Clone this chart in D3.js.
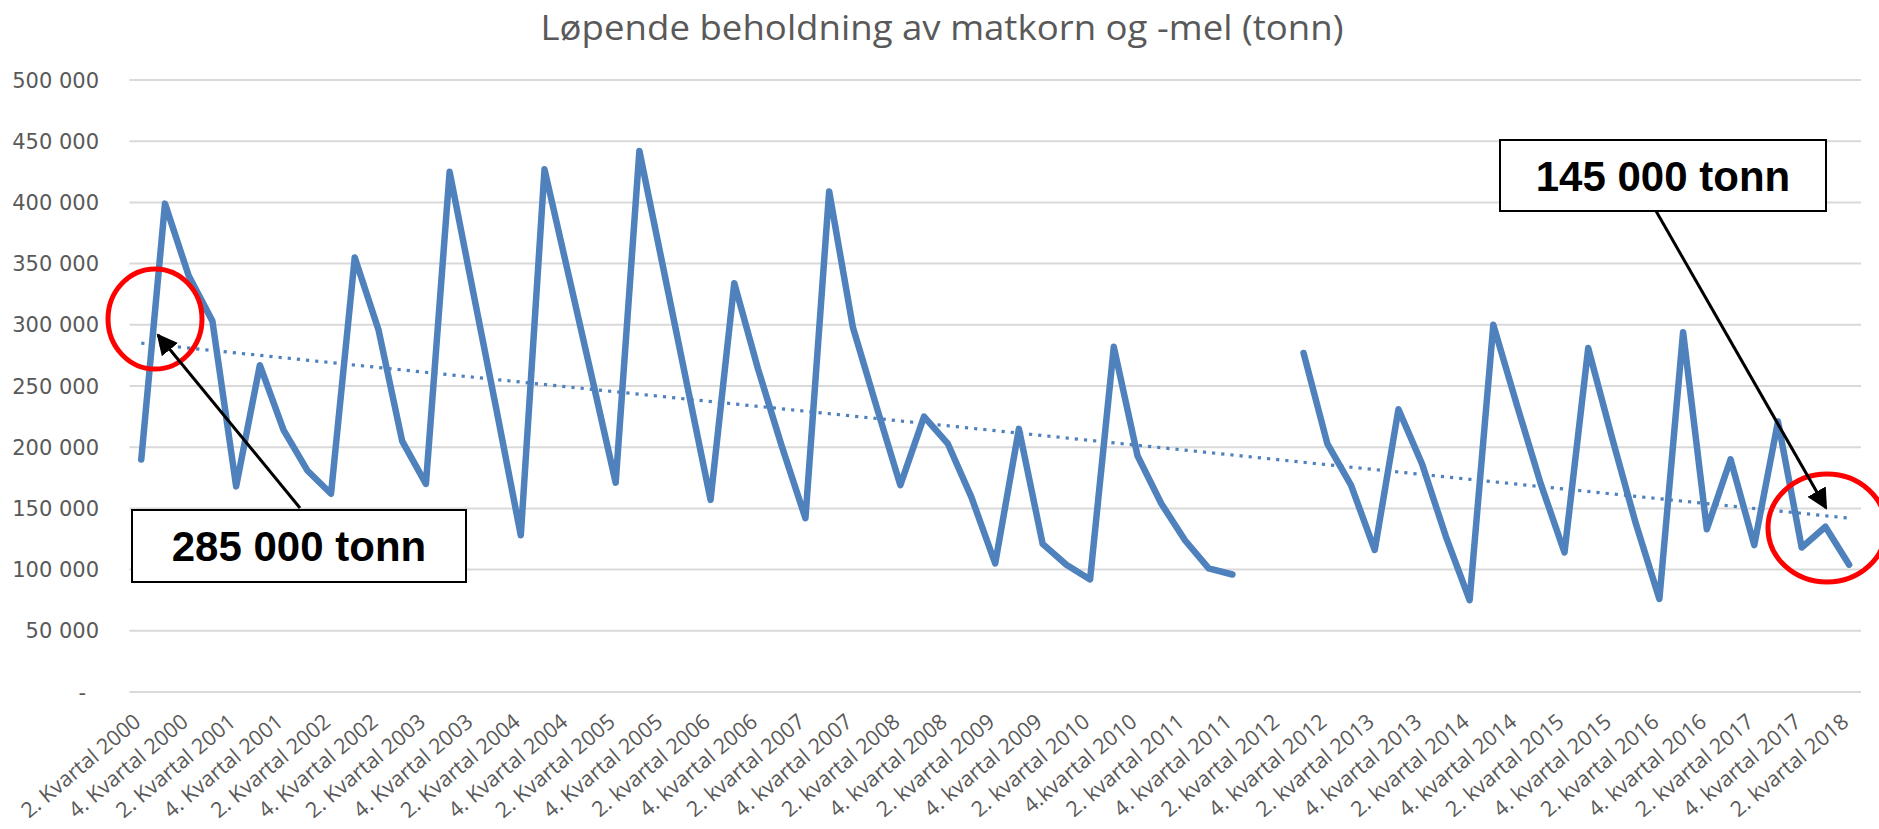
<!DOCTYPE html>
<html>
<head>
<meta charset="utf-8">
<script src="https://cdn.jsdelivr.net/npm/d3@7"></script>
<style>
  body { margin: 0; background: #fff; }
  svg { display: block; }
</style>
</head>
<body>
<svg id="chart" width="1879" height="829"></svg>
<script>
// quarterly stock, 2. kvartal 2000 .. 2. kvartal 2018 (null = no data)
const values = [
  190000, 399000, 340000, 303000, 168000, 267000, 214000, 181000,
  162000, 355000, 296000, 205000, 170000, 425000, 326000, 228000,
  128000, 427000, 342000, 257000, 171000, 442000, 347000, 252000,
  157000, 334000, 264000, 201000, 142000, 409000, 298000, 233000,
  169000, 225000, 203000, 159000, 105000, 215000, 121000, 104000,
  92000, 282000, 193000, 154000, 124000, 101000, 96000, null,
  null, 277000, 203000, 169000, 116000, 231000, 186000, 127000,
  75000, 300000, 234000, 170000, 114000, 281000, 208000, 138000,
  76000, 294000, 133000, 190000, 120000, 221000, 118000, 135000,
  104000
];

// every second quarter is labelled
const tickLabels = [
  "2. Kvartal 2000", "4. Kvartal 2000", "2. Kvartal 2001", "4. Kvartal 2001",
  "2. Kvartal 2002", "4. Kvartal 2002", "2. Kvartal 2003", "4. Kvartal 2003",
  "2. Kvartal 2004", "4. Kvartal 2004", "2. Kvartal 2005", "4. Kvartal 2005",
  "2. kvartal 2006", "4. kvartal 2006", "2. kvartal 2007", "4. kvartal 2007",
  "2. kvartal 2008", "4. kvartal 2008", "2. kvartal 2009", "4. kvartal 2009",
  "2. kvartal 2010", "4.kvartal 2010", "2. kvartal 2011", "4. kvartal 2011",
  "2. kvartal 2012", "4. kvartal 2012", "2. kvartal 2013", "4. kvartal 2013",
  "2. kvartal 2014", "4. kvartal 2014", "2. kvartal 2015", "4. kvartal 2015",
  "2. kvartal 2016", "4. kvartal 2016", "2. kvartal 2017", "4. kvartal 2017",
  "2. kvartal 2018"
];

const yTicks = [0, 50000, 100000, 150000, 200000, 250000, 300000, 350000, 400000, 450000, 500000];

// linear trend line, value at first and last quarter
const trendValues = [285000, 142000];

const title = "Løpende beholdning av matkorn og -mel (tonn)";
const blue = "#4f81bd";
const grey = "#595959";

const svg = d3.select("#chart");

const x = d3.scaleBand()
  .domain(d3.range(values.length))
  .range([129.4, 1861]);
const cx = i => x(i) + x.bandwidth() / 2;

const y = d3.scaleLinear()
  .domain([0, 500000])
  .range([692, 80]);

const nb = d3.formatLocale({ decimal: ",", thousands: " ", grouping: [3], currency: ["", " kr"] });
const fmt = nb.format(",");

// title
svg.append("text")
  .attr("x", 942)
  .attr("y", 40)
  .attr("text-anchor", "middle")
  .attr("font-family", "Open Sans, sans-serif")
  .attr("font-size", 34)
  .attr("fill", grey)
  .attr("textLength", 803)
  .attr("lengthAdjust", "spacingAndGlyphs")
  .text(title);

// gridlines
svg.append("g")
  .selectAll("line")
  .data(yTicks)
  .join("line")
  .attr("x1", x.range()[0])
  .attr("x2", x.range()[1])
  .attr("y1", d => y(d))
  .attr("y2", d => y(d))
  .attr("stroke", "#d9d9d9")
  .attr("stroke-width", 2);

// y labels
svg.append("g")
  .selectAll("text")
  .data(yTicks)
  .join("text")
  .attr("x", d => d === 0 ? 86 : 99)
  .attr("y", d => y(d))
  .attr("dy", "0.36em")
  .attr("text-anchor", "end")
  .attr("font-family", "DejaVu Sans, sans-serif")
  .attr("font-size", 21)
  .attr("fill", grey)
  .text(d => d === 0 ? "-" : fmt(d));

// x labels, rotated
svg.append("g")
  .selectAll("text")
  .data(tickLabels)
  .join("text")
  .attr("transform", (d, i) => `translate(${cx(i * 2) + 1},${724}) rotate(-40)`)
  .attr("text-anchor", "end")
  .attr("font-family", "Open Sans, sans-serif")
  .attr("font-size", 21.5)
  .attr("fill", grey)
  .text(d => d);

// trend line
const last = values.length - 1;
svg.append("line")
  .attr("x1", cx(0))
  .attr("y1", y(trendValues[0]))
  .attr("x2", cx(last))
  .attr("y2", y(trendValues[1]))
  .attr("stroke", blue)
  .attr("stroke-width", 3.2)
  .attr("stroke-dasharray", "3.2 6");

// main series
const line = d3.line()
  .defined(d => d != null)
  .x((d, i) => cx(i))
  .y(d => y(d));

svg.append("path")
  .datum(values)
  .attr("fill", "none")
  .attr("stroke", blue)
  .attr("stroke-width", 6.5)
  .attr("stroke-linejoin", "round")
  .attr("stroke-linecap", "round")
  .attr("d", line);

// callouts
const defs = svg.append("defs");
defs.append("marker")
  .attr("id", "arrow")
  .attr("viewBox", "0 0 10 10")
  .attr("refX", 9)
  .attr("refY", 5)
  .attr("markerWidth", 7)
  .attr("markerHeight", 7)
  .attr("orient", "auto")
  .append("path")
  .attr("d", "M0,0 L10,5 L0,10 z")
  .attr("fill", "#000");

const callouts = [
  { text: "285 000 tonn", box: [132, 510, 334, 72], from: [300, 508], to: [158, 335], ring: [155, 319, 47, 50] },
  { text: "145 000 tonn", box: [1500, 140, 326, 71], from: [1656, 211], to: [1826, 508], ring: [1827, 528, 59, 54] }
];

const c = svg.append("g").selectAll("g").data(callouts).join("g");

c.append("ellipse")
  .attr("cx", d => d.ring[0])
  .attr("cy", d => d.ring[1])
  .attr("rx", d => d.ring[2])
  .attr("ry", d => d.ring[3])
  .attr("fill", "none")
  .attr("stroke", "#ff0000")
  .attr("stroke-width", 5);

c.append("line")
  .attr("x1", d => d.from[0])
  .attr("y1", d => d.from[1])
  .attr("x2", d => d.to[0])
  .attr("y2", d => d.to[1])
  .attr("stroke", "#000")
  .attr("stroke-width", 3)
  .attr("marker-end", "url(#arrow)");

c.append("rect")
  .attr("x", d => d.box[0])
  .attr("y", d => d.box[1])
  .attr("width", d => d.box[2])
  .attr("height", d => d.box[3])
  .attr("fill", "#fff")
  .attr("stroke", "#000")
  .attr("stroke-width", 2);

c.append("text")
  .attr("x", d => d.box[0] + d.box[2] / 2)
  .attr("y", d => d.box[1] + 51)
  .attr("text-anchor", "middle")
  .attr("font-family", "Liberation Sans, Arial, sans-serif")
  .attr("font-weight", "bold")
  .attr("font-size", 42)
  .attr("fill", "#000")
  .text(d => d.text);
</script>
</body>
</html>
